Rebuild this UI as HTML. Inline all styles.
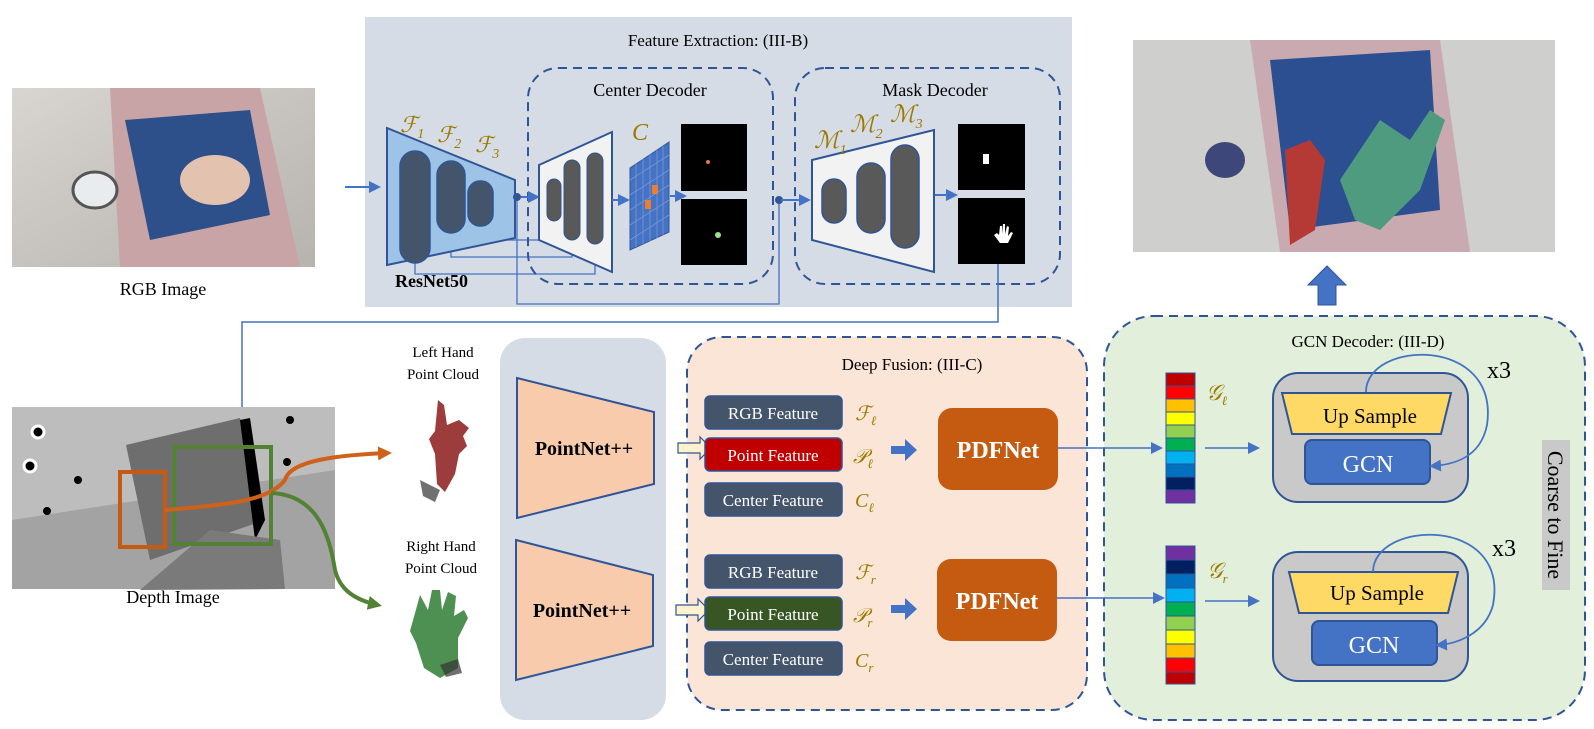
<!DOCTYPE html>
<html><head><meta charset="utf-8"><style>
html,body{margin:0;padding:0;background:#fff}
svg{display:block}
text{font-family:"Liberation Serif",serif}
</style></head><body>
<svg width="1594" height="729" viewBox="0 0 1594 729" xmlns="http://www.w3.org/2000/svg">
<defs>
<marker id="abb" markerWidth="12" markerHeight="12" refX="9" refY="6" orient="auto" markerUnits="userSpaceOnUse"><path d="M0,0 L12,6 L0,12 z" fill="#4472c4"/></marker>
<marker id="ao" markerWidth="14" markerHeight="14" refX="10" refY="7" orient="auto" markerUnits="userSpaceOnUse"><path d="M0,0 L14,7 L0,14 z" fill="#d0611a"/></marker>
<marker id="ag" markerWidth="14" markerHeight="14" refX="10" refY="7" orient="auto" markerUnits="userSpaceOnUse"><path d="M0,0 L14,7 L0,14 z" fill="#548235"/></marker>
<linearGradient id="rgb" x1="0" y1="0" x2="1" y2="1"><stop offset="0" stop-color="#d8d6d0"/><stop offset="0.5" stop-color="#c7c3bf"/><stop offset="1" stop-color="#b7b3ae"/></linearGradient>
</defs>

<!-- RGB image -->
<rect x="12" y="88" width="303" height="179" fill="url(#rgb)"/>
<polygon points="110,88 260,88 300,267 120,267" fill="#c9a4a6"/>
<polygon points="125,120 250,110 270,215 150,240" fill="#2d4f8a"/>
<ellipse cx="215" cy="180" rx="35" ry="25" fill="#e4c2b0"/>
<ellipse cx="95" cy="190" rx="22" ry="18" fill="#e9ecef" stroke="#555" stroke-width="3"/>
<text x="163" y="295" font-size="18" text-anchor="middle">RGB Image</text>

<!-- Feature extraction bg -->
<rect x="365" y="17" width="707" height="290" fill="#d6dce6"/>
<text x="718" y="46" font-size="17" text-anchor="middle">Feature Extraction: (III-B)</text>
<line x1="345" y1="187" x2="378" y2="187" stroke="#4472c4" stroke-width="2" marker-end="url(#abb)"/>
<!-- skip lines -->
<g stroke="#4472c4" stroke-width="1.3" fill="none">
<polyline points="415,263 415,274 595,274 595,244"/>
<polyline points="451,233 451,257 572,257 572,240"/>
<polyline points="481,226 481,240 554,240 554,221"/>
<polyline points="517,197 517,304 779,304 779,200"/>
</g>
<!-- ResNet -->
<polygon points="387,128 515,180 515,238 387,265" fill="#9dc3e6" stroke="#2f5597" stroke-width="2"/>
<rect x="400" y="151" width="30" height="112" rx="15" fill="#44546a" stroke="#2f5597" stroke-width="1.5"/>
<rect x="437" y="161" width="28" height="72" rx="14" fill="#44546a" stroke="#2f5597" stroke-width="1.5"/>
<rect x="468" y="181" width="25" height="45" rx="12" fill="#44546a" stroke="#2f5597" stroke-width="1.5"/>
<text x="400" y="132" font-size="22" font-style="italic" fill="#9c7a00">ℱ<tspan font-size="14" dy="6">1</tspan></text>
<text x="437" y="142" font-size="22" font-style="italic" fill="#9c7a00">ℱ<tspan font-size="14" dy="6">2</tspan></text>
<text x="475" y="152" font-size="22" font-style="italic" fill="#9c7a00">ℱ<tspan font-size="14" dy="6">3</tspan></text>
<text x="395" y="287" font-size="18" font-weight="bold">ResNet50</text>

<!-- Center decoder -->
<rect x="528" y="68" width="245" height="216" rx="30" fill="none" stroke="#2f5597" stroke-width="2" stroke-dasharray="9,6"/>
<text x="650" y="96" font-size="18" text-anchor="middle">Center Decoder</text>
<line x1="521" y1="197" x2="537" y2="197" stroke="#4472c4" stroke-width="2" marker-end="url(#abb)"/>
<circle cx="517" cy="197" r="4" fill="#2f5597"/>
<polygon points="539,165 612,132 612,272 539,240" fill="#f2f2f2" stroke="#2f5597" stroke-width="2"/>
<rect x="547" y="179" width="14" height="42" rx="7" fill="#595959" stroke="#2f5597"/>
<rect x="564" y="160" width="16" height="80" rx="8" fill="#595959" stroke="#2f5597"/>
<rect x="587" y="153" width="16" height="91" rx="8" fill="#595959" stroke="#2f5597"/>
<line x1="612" y1="200" x2="627" y2="200" stroke="#4472c4" stroke-width="2" marker-end="url(#abb)"/>
<polygon points="630,168 669,142 669,232 630,250" fill="#4472c4" stroke="#2f5597"/>
<g stroke="#7a98d4" stroke-width="0.8">
<line x1="636" y1="164" x2="636" y2="247"/><line x1="643" y1="159" x2="643" y2="244"/><line x1="650" y1="154" x2="650" y2="241"/><line x1="657" y1="150" x2="657" y2="238"/><line x1="663" y1="146" x2="663" y2="235"/>
<line x1="630" y1="180" x2="669" y2="155"/><line x1="630" y1="195" x2="669" y2="170"/><line x1="630" y1="210" x2="669" y2="185"/><line x1="630" y1="225" x2="669" y2="200"/><line x1="630" y1="240" x2="669" y2="215"/>
</g>
<rect x="652" y="185" width="6" height="9" fill="#ed7d31"/><rect x="645" y="200" width="6" height="9" fill="#ed7d31"/>
<text x="632" y="140" font-size="24" font-style="italic" fill="#9c7a00">C</text>
<line x1="670" y1="196" x2="684" y2="196" stroke="#4472c4" stroke-width="2" marker-end="url(#abb)"/>
<rect x="681" y="124" width="66" height="67" fill="#000"/>
<circle cx="708" cy="162" r="2" fill="#e07a40"/>
<rect x="681" y="199" width="66" height="66" fill="#000"/>
<circle cx="718" cy="235" r="3" fill="#9be08a"/>

<!-- Mask decoder -->
<rect x="795" y="68" width="265" height="216" rx="30" fill="none" stroke="#2f5597" stroke-width="2" stroke-dasharray="9,6"/>
<text x="935" y="96" font-size="18" text-anchor="middle">Mask Decoder</text>
<circle cx="779" cy="200" r="4" fill="#2f5597"/>
<line x1="781" y1="200" x2="808" y2="200" stroke="#4472c4" stroke-width="2" marker-end="url(#abb)"/>
<polygon points="812,160 934,130 934,272 812,240" fill="#f2f2f2" stroke="#2f5597" stroke-width="2"/>
<rect x="822" y="179" width="24" height="44" rx="12" fill="#595959" stroke="#2f5597" stroke-width="1.5"/>
<rect x="857" y="163" width="28" height="70" rx="14" fill="#595959" stroke="#2f5597" stroke-width="1.5"/>
<rect x="891" y="145" width="28" height="103" rx="14" fill="#595959" stroke="#2f5597" stroke-width="1.5"/>
<text x="814" y="148" font-size="24" font-style="italic" fill="#9c7a00">ℳ<tspan font-size="14" dy="6">1</tspan></text>
<text x="850" y="132" font-size="24" font-style="italic" fill="#9c7a00">ℳ<tspan font-size="14" dy="6">2</tspan></text>
<text x="890" y="122" font-size="24" font-style="italic" fill="#9c7a00">ℳ<tspan font-size="14" dy="6">3</tspan></text>
<line x1="935" y1="195" x2="955" y2="195" stroke="#4472c4" stroke-width="2" marker-end="url(#abb)"/>
<rect x="958" y="124" width="67" height="66" fill="#000"/>
<rect x="983" y="154" width="6" height="10" fill="#fff"/>
<rect x="958" y="198" width="67" height="66" fill="#000"/>
<path d="M1000,243 l-6,-8 l3,-2 l2,2 l1,-9 l2,0 l0,8 l1,-10 l2,0 l0,10 l2,-8 l2,1 l-1,9 l3,-4 l2,1 l-5,10 z" fill="#fff"/>
<!-- long connector to depth -->
<polyline points="998,264 998,322 242,322 242,418" fill="none" stroke="#4472c4" stroke-width="1.5" marker-end="url(#abb)"/>

<!-- Output image -->
<rect x="1133" y="40" width="422" height="212" fill="#cfd0cd"/>
<polygon points="1250,40 1440,40 1470,252 1280,252" fill="#c8aab0"/>
<polygon points="1270,60 1430,50 1440,210 1290,230" fill="#2b4f90"/>
<path d="M1285,150 l25,-10 l15,20 l-10,70 l-25,15 z" fill="#b53a36"/>
<path d="M1340,180 l40,-60 l30,20 l20,-30 l15,10 l-25,70 l-40,40 l-25,-10 z" fill="#4e9b80"/>
<ellipse cx="1225" cy="160" rx="20" ry="18" fill="#3d4779"/>
<polygon points="1318,285 1318,305 1336,305 1336,285 1346,285 1327,266 1308,285" fill="#4472c4" stroke="#2f5597"/>

<!-- Depth image -->
<rect x="12" y="407" width="323" height="182" fill="#a3a3a3"/>
<polygon points="12,407 335,407 335,470 12,520" fill="#bdbdbd"/>
<polygon points="126,445 240,418 265,520 150,560" fill="#6e6e6e"/>
<polygon points="240,420 250,418 265,520 255,540" fill="#000"/>
<polygon points="140,590 210,530 280,540 285,589" fill="#7a7a7a"/>
<circle cx="38" cy="432" r="6" fill="#000" stroke="#fff" stroke-width="3"/>
<circle cx="30" cy="466" r="6" fill="#000" stroke="#fff" stroke-width="3"/>
<circle cx="78" cy="480" r="4" fill="#000"/>
<circle cx="47" cy="511" r="4" fill="#000"/>
<circle cx="290" cy="420" r="4" fill="#000"/>
<circle cx="287" cy="462" r="4" fill="#000"/>
<rect x="120" y="472" width="45" height="75" fill="none" stroke="#c55a11" stroke-width="4"/>
<rect x="174" y="447" width="97" height="97" fill="none" stroke="#548235" stroke-width="4"/>
<path d="M165,510 C230,505 270,500 285,480 C290,460 340,455 388,453" fill="none" stroke="#d0611a" stroke-width="4" marker-end="url(#ao)"/>
<path d="M271,493 C320,495 330,540 335,570 C340,590 355,600 378,605" fill="none" stroke="#548235" stroke-width="4" marker-end="url(#ag)"/>
<text x="173" y="603" font-size="18" text-anchor="middle">Depth Image</text>
<text x="443" y="357" font-size="15" text-anchor="middle">Left Hand</text>
<text x="443" y="379" font-size="15" text-anchor="middle">Point Cloud</text>
<text x="441" y="551" font-size="15" text-anchor="middle">Right Hand</text>
<text x="441" y="573" font-size="15" text-anchor="middle">Point Cloud</text>
<path d="M438,400 l6,5 l3,20 l12,-5 l10,8 l-6,8 l4,10 l-8,8 l-4,20 l-10,18 l-8,-8 l-2,-30 l-6,-15 l6,-8 z" fill="#8b1a1a" opacity="0.85"/>
<path d="M420,480 l20,10 l-5,12 l-12,-6 z" fill="#333" opacity="0.7"/>
<path d="M420,595 l8,15 l4,-20 l8,0 l2,20 l6,-18 l8,4 l-2,20 l10,-6 l4,8 l-10,20 l0,30 l-18,10 l-16,-10 l-8,-25 l-6,-12 z" fill="#2e7d32" opacity="0.85"/>
<path d="M440,665 l18,-6 l4,14 l-16,4 z" fill="#333" opacity="0.7"/>

<!-- PointNet bg -->
<rect x="500" y="338" width="166" height="382" rx="25" fill="#d6dce6"/>
<polygon points="517,378 654,412 654,484 517,518" fill="#f8cbad" stroke="#2f5597" stroke-width="2"/>
<text x="584" y="455" font-size="20" font-weight="bold" text-anchor="middle">PointNet++</text>
<polygon points="516,540 653,575 653,646 516,680" fill="#f8cbad" stroke="#2f5597" stroke-width="2"/>
<text x="582" y="617" font-size="20" font-weight="bold" text-anchor="middle">PointNet++</text>

<!-- Deep fusion -->
<rect x="687" y="337" width="400" height="373" rx="35" fill="#fbe5d6" stroke="#2f5597" stroke-width="2" stroke-dasharray="9,6"/>
<text x="912" y="370" font-size="17" text-anchor="middle">Deep Fusion: (III-C)</text>
<polygon points="678,443 700,443 700,437 711,448 700,459 700,453 678,453" fill="#fff2cc" stroke="#2f5597" stroke-width="1.2"/>
<polygon points="676,605 698,605 698,599 709,610 698,621 698,615 676,615" fill="#fff2cc" stroke="#2f5597" stroke-width="1.2"/>
<g font-size="17" fill="#fff" text-anchor="middle">
<rect x="705" y="396" width="137" height="33" rx="5" fill="#44546a" stroke="#2f5597" stroke-width="1.5"/><text x="773" y="419">RGB Feature</text>
<rect x="705" y="438" width="137" height="33" rx="5" fill="#c00000" stroke="#2f5597" stroke-width="1.5"/><text x="773" y="461">Point Feature</text>
<rect x="705" y="483" width="137" height="33" rx="5" fill="#44546a" stroke="#2f5597" stroke-width="1.5"/><text x="773" y="506">Center Feature</text>
<rect x="705" y="555" width="137" height="33" rx="5" fill="#44546a" stroke="#2f5597" stroke-width="1.5"/><text x="773" y="578">RGB Feature</text>
<rect x="705" y="597" width="137" height="33" rx="5" fill="#375623" stroke="#2f5597" stroke-width="1.5"/><text x="773" y="620">Point Feature</text>
<rect x="705" y="642" width="137" height="33" rx="5" fill="#44546a" stroke="#2f5597" stroke-width="1.5"/><text x="773" y="665">Center Feature</text>
</g>
<g font-size="20" font-style="italic" fill="#9c7a00">
<text x="855" y="420">ℱ<tspan font-size="13" dy="5">ℓ</tspan></text>
<text x="853" y="463">𝒫<tspan font-size="13" dy="5">ℓ</tspan></text>
<text x="855" y="507">C<tspan font-size="13" dy="5">ℓ</tspan></text>
<text x="855" y="579">ℱ<tspan font-size="13" dy="5">r</tspan></text>
<text x="853" y="622">𝒫<tspan font-size="13" dy="5">r</tspan></text>
<text x="855" y="667">C<tspan font-size="13" dy="5">r</tspan></text>
</g>
<polygon points="891,446 905,446 905,439 917,450 905,461 905,454 891,454" fill="#4472c4"/>
<polygon points="891,605 905,605 905,598 917,609 905,620 905,613 891,613" fill="#4472c4"/>
<rect x="938" y="408" width="120" height="82" rx="14" fill="#c55a11"/>
<text x="998" y="458" font-size="24" font-weight="bold" fill="#fff" text-anchor="middle">PDFNet</text>
<rect x="937" y="559" width="120" height="82" rx="14" fill="#c55a11"/>
<text x="997" y="609" font-size="24" font-weight="bold" fill="#fff" text-anchor="middle">PDFNet</text>

<!-- GCN decoder -->
<rect x="1104" y="316" width="481" height="404" rx="50" fill="#e2efda" stroke="#2f5597" stroke-width="2" stroke-dasharray="9,6"/>
<line x1="1058" y1="448" x2="1160" y2="448" stroke="#4472c4" stroke-width="1.5" marker-end="url(#abb)"/>
<line x1="1057" y1="598" x2="1162" y2="598" stroke="#4472c4" stroke-width="1.5" marker-end="url(#abb)"/>
<text x="1368" y="347" font-size="17" text-anchor="middle">GCN Decoder: (III-D)</text>
<g stroke="#2f5597" stroke-width="1">
<rect x="1166" y="373" width="29" height="13" fill="#c00000"/><rect x="1166" y="386" width="29" height="13" fill="#ff0000"/>
<rect x="1166" y="399" width="29" height="13" fill="#ffc000"/><rect x="1166" y="412" width="29" height="13" fill="#ffff00"/>
<rect x="1166" y="425" width="29" height="13" fill="#92d050"/><rect x="1166" y="438" width="29" height="13" fill="#00b050"/>
<rect x="1166" y="451" width="29" height="13" fill="#00b0f0"/><rect x="1166" y="464" width="29" height="13" fill="#0070c0"/>
<rect x="1166" y="477" width="29" height="13" fill="#002060"/><rect x="1166" y="490" width="29" height="13" fill="#7030a0"/>
<rect x="1166" y="546" width="29" height="14" fill="#7030a0"/><rect x="1166" y="560" width="29" height="14" fill="#002060"/>
<rect x="1166" y="574" width="29" height="14" fill="#0070c0"/><rect x="1166" y="588" width="29" height="14" fill="#00b0f0"/>
<rect x="1166" y="602" width="29" height="14" fill="#00b050"/><rect x="1166" y="616" width="29" height="14" fill="#92d050"/>
<rect x="1166" y="630" width="29" height="14" fill="#ffff00"/><rect x="1166" y="644" width="29" height="14" fill="#ffc000"/>
<rect x="1166" y="658" width="29" height="14" fill="#ff0000"/><rect x="1166" y="672" width="29" height="12" fill="#c00000"/>
</g>
<text x="1206" y="400" font-size="22" font-style="italic" fill="#9c7a00">𝒢<tspan font-size="13" dy="5">ℓ</tspan></text>
<text x="1207" y="578" font-size="22" font-style="italic" fill="#9c7a00">𝒢<tspan font-size="13" dy="5">r</tspan></text>
<line x1="1205" y1="448" x2="1257" y2="448" stroke="#4472c4" stroke-width="1.5" marker-end="url(#abb)"/>
<line x1="1205" y1="601" x2="1257" y2="601" stroke="#4472c4" stroke-width="1.5" marker-end="url(#abb)"/>

<rect x="1273" y="373" width="195" height="129" rx="25" fill="#c9c9c9" stroke="#2f5597" stroke-width="2"/>
<polygon points="1282,393 1451,393 1441,434 1292,434" fill="#ffd966" stroke="#2f5597" stroke-width="2"/>
<text x="1370" y="423" font-size="21" text-anchor="middle">Up Sample</text>
<rect x="1305" y="440" width="125" height="44" rx="7" fill="#4472c4" stroke="#2f5597" stroke-width="2"/>
<text x="1368" y="472" font-size="24" fill="#fff" text-anchor="middle">GCN</text>
<path d="M1366,392 C1366,340 1500,335 1487,425 C1480,460 1450,465 1432,466" fill="none" stroke="#4472c4" stroke-width="1.8" marker-end="url(#abb)"/>
<text x="1487" y="378" font-size="24">x3</text>

<rect x="1273" y="552" width="195" height="129" rx="25" fill="#c9c9c9" stroke="#2f5597" stroke-width="2"/>
<polygon points="1289,572 1458,572 1448,613 1299,613" fill="#ffd966" stroke="#2f5597" stroke-width="2"/>
<text x="1377" y="600" font-size="21" text-anchor="middle">Up Sample</text>
<rect x="1312" y="621" width="125" height="44" rx="7" fill="#4472c4" stroke="#2f5597" stroke-width="2"/>
<text x="1374" y="653" font-size="24" fill="#fff" text-anchor="middle">GCN</text>
<path d="M1373,572 C1373,520 1510,515 1493,605 C1485,635 1455,644 1438,645" fill="none" stroke="#4472c4" stroke-width="1.8" marker-end="url(#abb)"/>
<text x="1492" y="556" font-size="24">x3</text>

<rect x="1542" y="440" width="28" height="150" fill="#c9c9c9"/>
<text x="0" y="0" font-size="22" transform="translate(1548,515) rotate(90)" text-anchor="middle">Coarse to Fine</text>
</svg>
</body></html>
